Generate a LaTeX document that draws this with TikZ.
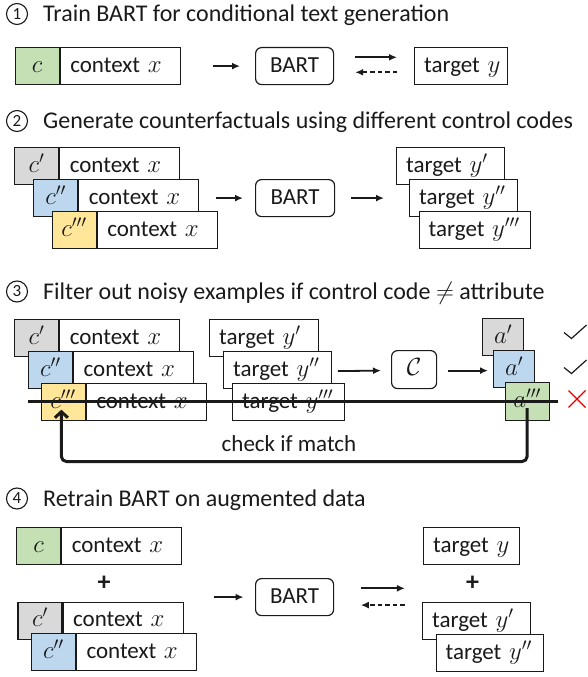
\documentclass[tikz,border=0pt]{standalone}
\usepackage{fontspec}
\setmainfont{Carlito}
\usetikzlibrary{arrows.meta}

\definecolor{cgreen}{HTML}{C5E0B4}
\definecolor{cgray}{HTML}{D9D9D9}
\definecolor{cblue}{HTML}{BDD7EE}
\definecolor{cyellow}{HTML}{FFE699}
\definecolor{cred}{HTML}{E00000}
\definecolor{ink}{HTML}{1A1A1A}

\tikzset{
  every node/.style={font=\fontsize{23}{27}\selectfont, text=ink},
  heading/.style={anchor=base west, inner sep=0, font=\fontsize{24}{28}\selectfont},
  stepnum/.style={circle, draw=ink, line width=1.1, minimum size=21, inner sep=0,
                  font=\fontsize{17}{20}\selectfont},
  codebox/.style={draw=ink, line width=1.2, minimum height=37, minimum width=44,
                  inner sep=0, text height=17, text depth=5, anchor=north west},
  ctxbox/.style={draw=ink, line width=1.2, fill=white, minimum height=37, text width=100,
                 inner xsep=10, inner ysep=0, align=left, text height=17, text depth=5,
                 anchor=west},
  tgtbox/.style={draw=ink, line width=1.2, fill=white, minimum height=37, text width=#1,
                 inner xsep=9.5, inner ysep=0, align=left, text height=17, text depth=5,
                 anchor=north west},
  model/.style={draw=ink, line width=1.2, rounded corners=6, minimum height=37,
                inner sep=0, text height=17, text depth=5, anchor=north west},
  attrbox/.style={draw=ink, line width=1.2, minimum height=37, minimum width=#1,
                  inner sep=0, text height=17, text depth=5, anchor=north west},
  arr/.style={-{Latex[length=8,width=7]}, line width=1.8, draw=ink},
  backarr/.style={-{Latex[length=8,width=7]}, line width=1.8, draw=ink,
                  dash pattern=on 4.5pt off 3pt},
  plus/.style={font=\fontsize{26}{30}\selectfont\bfseries, inner sep=0},
}

% a control-code cell followed by its context cell
\newcommand\codectx[5]{%
  \node[codebox, fill=#4] (#1c) at (#2,#3) {$#5$};
  \node[ctxbox] (#1x) at (#1c.east) {context $x$};}
% target text kept on one line
\newcommand\tgt[1]{\mbox{target $#1$}}

\begin{document}
\begin{tikzpicture}[x=1pt,y=-1pt]
\useasboundingbox (0,0) rectangle (587,677);

% ---------------- step 1 ----------------
\node[stepnum] (n1) at (17,14) {1};
\node[heading] (t1) at (43,21.5) {Train BART for conditional text generation};

\codectx{a}{14.5}{47}{cgreen}{c}
\node[model, minimum width=78] (bart1) at (255,47) {BART};
\node[tgtbox=74] (ty1) at (414,47) {\tgt{y}};
\draw[arr] ([xshift=32]ax.east) -- ([xshift=-15]bart1.west);
\draw[arr] ([xshift=21,yshift=8.8]bart1.east) -- ([xshift=-17,yshift=8.8]ty1.west);
\draw[backarr] ([xshift=-17,yshift=-6.2]ty1.west) -- ([xshift=21,yshift=-6.2]bart1.east);

% ---------------- step 2 ----------------
\node[stepnum] (n2) at (17,121) {2};
\node[heading] (t2) at (43,128.5) {Generate counterfactuals using different control codes};

\codectx{b1}{14}{147}{cgray}{c'}
\codectx{b2}{33}{179}{cblue}{c''}
\codectx{b3}{51.5}{211}{cyellow}{c'''}
\node[model, minimum width=79] (bart2) at (255,179) {BART};
\node[tgtbox=88.5] (tb1) at (396,147) {\tgt{y'}};
\node[tgtbox=89] (tb2) at (409,179) {\tgt{y''}};
\node[tgtbox=92.5] (tb3) at (418.6,211) {\tgt{y'''}};
\draw[arr] ([xshift=16.5]b2x.east) -- ([xshift=-12]bart2.west);
\draw[arr] ([xshift=16]bart2.east) -- ([xshift=-25]tb2.west);

% ---------------- step 3 ----------------
\node[stepnum] (n3) at (17,291.5) {3};
\node[heading] (t3) at (43,299) {Filter out noisy examples if control code $\neq$ attribute};

\codectx{c1}{14}{319}{cgray}{c'}
\codectx{c2}{27.8}{351}{cblue}{c''}
\codectx{c3}{40.5}{383}{cyellow}{c'''}
\node[tgtbox=89.5] (tc1) at (209,319) {\tgt{y'}};
\node[tgtbox=88.6] (tc2) at (223,351) {\tgt{y''}};
\node[tgtbox=93] (tc3) at (232,383) {\tgt{y'''}};
\node[model, minimum width=45, minimum height=38] (clf) at (391,350) {$\mathcal{C}$};
\node[attrbox=41, fill=cgray] (a1) at (482,318) {$a'$};
\node[attrbox=41, fill=cblue] (a2) at (493,350) {$a'$};
\node[attrbox=44, fill=cgreen, minimum height=38] (a3) at (504.5,382) {$a'''$};
\draw[arr] ([xshift=6,yshift=-1]tc2.east) -- ([xshift=-10,yshift=-1]clf.west);
\draw[arr] ([xshift=10.6,yshift=-1]clf.east) -- ([xshift=-5,yshift=-1]a2.west |- clf.east);

% the rejected example is struck through
\coordinate (s0) at (28,401.5);
\coordinate (s1) at (558,401.5);
\draw[line width=3, draw=ink] (s0) -- (s1);

% verdict marks
\draw[line width=1.2, draw=ink] (564,332.5) -- (571.5,338.5) -- (586.5,325);
\draw[line width=1.2, draw=ink] (564,367.5) -- (571.5,373.5) -- (586.5,360);
\draw[line width=1.3, draw=cred] (568.5,390.5) -- (585.5,407.5) (568.5,407.5) -- (585.5,390.5);

% feedback loop
\coordinate (lp0) at ([yshift=13]a3.south);
\coordinate (lp1) at ([xshift=-1.7,yshift=11.5]c3c.south);
\draw[line width=3, draw=ink, rounded corners=5, -{Straight Barb[length=6,width=13,line width=3]}]
  (lp0) -- (lp0 |- 0,461.5) -- (lp1 |- 0,461.5) -- (lp1);
\node[anchor=base, inner sep=0] (match) at (289,451.7) {check if match};

% ---------------- step 4 ----------------
\node[stepnum] (n4) at (17,498.5) {4};
\node[heading] (t4) at (43,506) {Retrain BART on augmented data};

\codectx{d0}{16}{527}{cgreen}{c}
\node[plus] (p1) at (104,583) {+};
\codectx{d1}{17.3}{601.5}{cgray}{c'}
\codectx{d2}{30.7}{633}{cblue}{c''}
\node[model, minimum width=78] (bart4) at (255,578) {BART};
\node[tgtbox=76.5] (td0) at (423,527) {\tgt{y}};
\node[plus] (p2) at (472.6,583) {+};
\node[tgtbox=89] (td1) at (422,602) {\tgt{y'}};
\node[tgtbox=88.5] (td2) at (435.5,634) {\tgt{y''}};
\draw[arr] ([xshift=-41.5]bart4.west) -- ([xshift=-11.5]bart4.west);
\draw[arr] ([xshift=26.6,yshift=8.8]bart4.east) -- ([xshift=70.7,yshift=8.8]bart4.east);
\draw[backarr] ([xshift=70.7,yshift=-8]bart4.east) -- ([xshift=26.6,yshift=-8]bart4.east);
\end{tikzpicture}
\end{document}
